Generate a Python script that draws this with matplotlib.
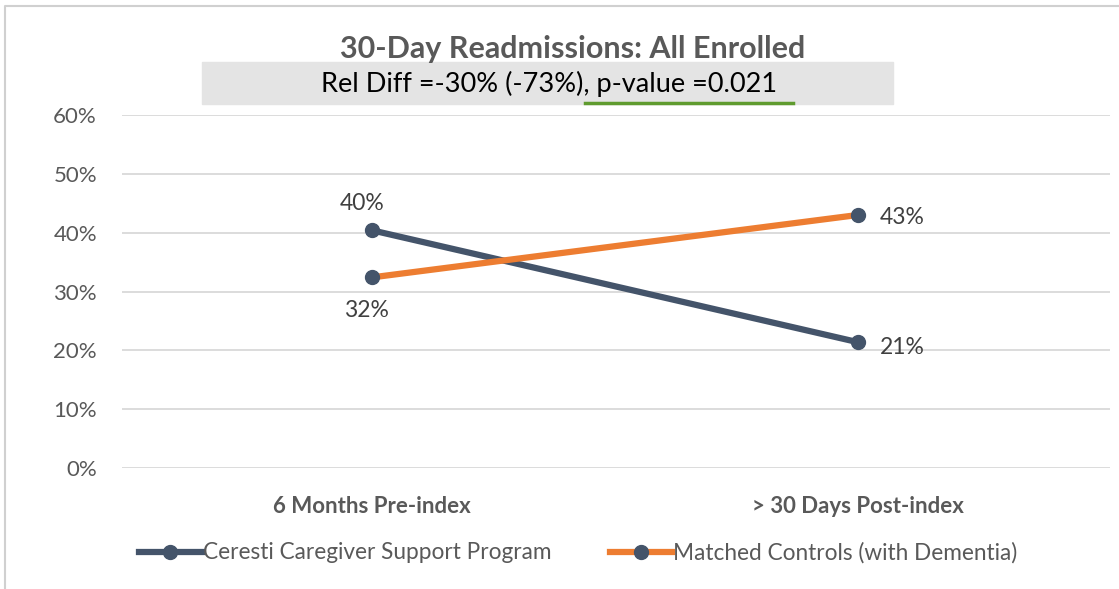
import matplotlib.pyplot as plt
from matplotlib.patches import Rectangle
from matplotlib.ticker import PercentFormatter

plt.rcParams['font.family'] = ['Lato', 'DejaVu Sans']

periods = ['6 Months Pre-index', '> 30 Days Post-index']
ceresti = [0.404, 0.214]
controls = [0.324, 0.43]
series_names = ['Ceresti Caregiver Support Program', 'Matched Controls (with Dementia)']

navy = '#44546A'
orange = '#ED7D31'
grey_txt = '#595959'

W, H = 1119, 589
fig = plt.figure(figsize=(W / 100, H / 100), dpi=100)
ax = fig.add_axes([122 / W, 1 - 468 / H, (1110 - 122) / W, (468 - 115) / H])

x = [0, 1]
ax.plot(x, ceresti, color=navy, lw=4.5, marker='o', ms=10, mfc=navy, mec=navy,
        label=series_names[0], zorder=3)
ax.plot(x, controls, color=orange, lw=4.5, marker='o', ms=10, mfc=navy, mec=navy,
        label=series_names[1], zorder=3)

# value labels next to each point
lab = dict(fontsize=16.5, color='#404040', textcoords='offset points', va='center')
ax.annotate(f'{ceresti[0]:.0%}', (0, ceresti[0]), xytext=(-7, 19), ha='center', **lab)
ax.annotate(f'{controls[0]:.0%}', (0, controls[0]), xytext=(-4, -24), ha='center', **lab)
ax.annotate(f'{ceresti[1]:.0%}', (1, ceresti[1]), xytext=(16, -4), ha='left', **lab)
ax.annotate(f'{controls[1]:.0%}', (1, controls[1]), xytext=(16, -2), ha='left', **lab)

ax.set_xlim(-0.515, 1.52)
ax.set_ylim(0, 0.6)
ax.set_yticks([0, 0.1, 0.2, 0.3, 0.4, 0.5, 0.6])
ax.yaxis.set_major_formatter(PercentFormatter(1.0, decimals=0))
ax.set_xticks(x)
ax.set_xticklabels(periods, fontsize=16, fontweight='bold', color=grey_txt)
ax.tick_params(axis='x', length=0, pad=20)
ax.tick_params(axis='y', length=0, labelsize=16, labelcolor=grey_txt, pad=18)
ax.grid(axis='y', color='#d9d9d9', lw=1.3)
ax.set_axisbelow(True)
for s in ax.spines.values():
    s.set_visible(False)

leg = ax.legend(loc='center', bbox_to_anchor=(0.462, -0.24), ncol=2, frameon=False,
                fontsize=16.3, handlelength=2.75, handletextpad=0.05, columnspacing=2.6)
for t in leg.get_texts():
    t.set_color(grey_txt)

# header block
fig.patches.append(Rectangle((202 / W, 1 - 104 / H), (893 - 202) / W, 42 / H,
                             transform=fig.transFigure, color='#e4e4e4', zorder=0))
fig.text(573 / W, 1 - 49 / H, '30-Day Readmissions: All Enrolled', ha='center', va='center',
         fontsize=22, fontweight='bold', color=grey_txt)
fig.text(549 / W, 1 - 84 / H, 'Rel Diff =-30% (-73%), p-value =0.021', ha='center', va='center',
         fontsize=19.5, color='black')
fig.add_artist(plt.Line2D([585 / W, 793 / W], [1 - 103 / H] * 2, color='#5f9b2e', lw=2.5,
                          transform=fig.transFigure))

# outer frame
fig.add_artist(plt.Line2D([5 / W, 5 / W, 1], [0, 1 - 6 / H, 1 - 6 / H],
                          color='#d0d0d0', lw=1.5, transform=fig.transFigure))

fig.savefig('out.png', dpi=100)
